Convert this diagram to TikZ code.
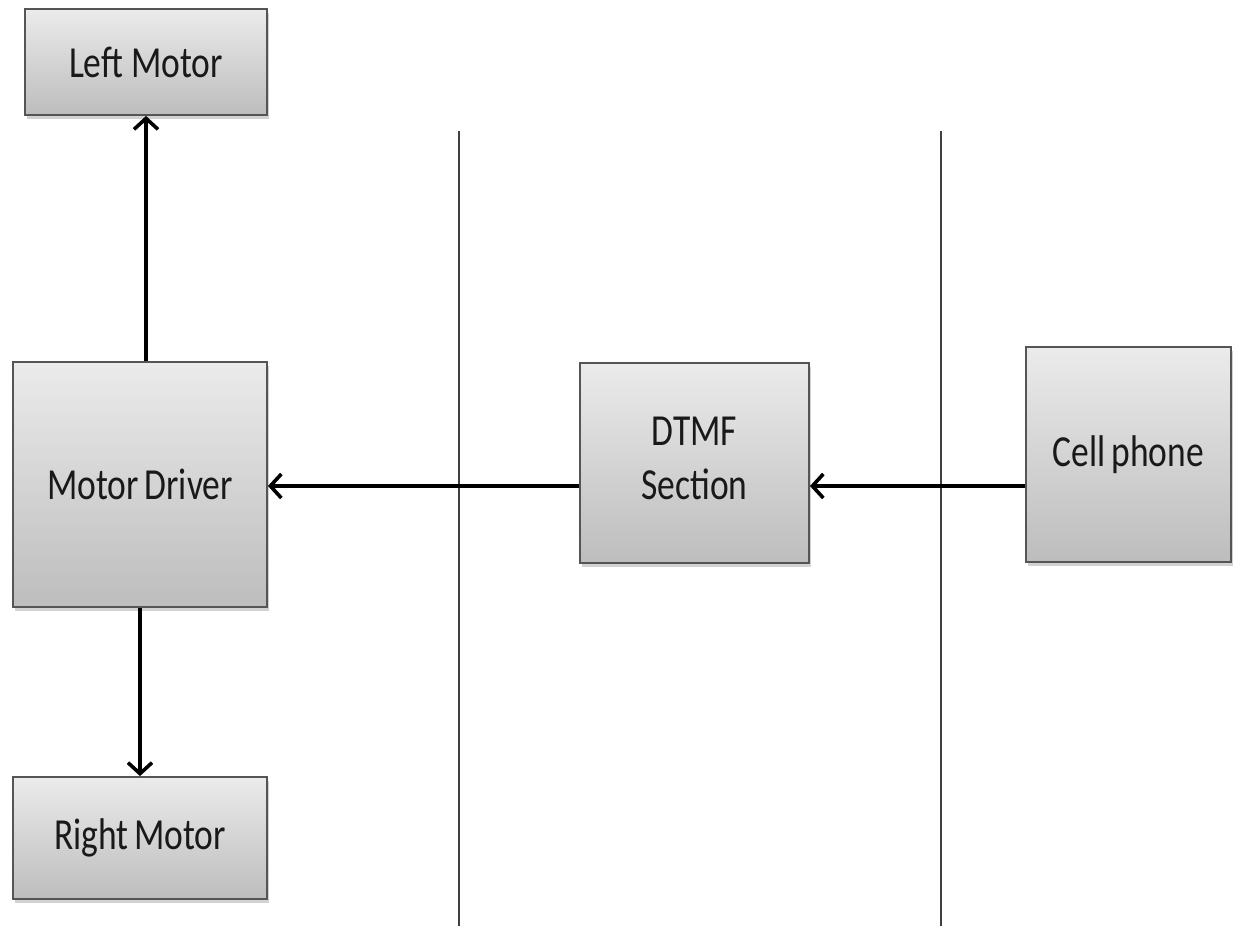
\documentclass[tikz,border=0pt]{standalone}
\usepackage{fontspec}
\setmainfont{Carlito}
\usetikzlibrary{arrows.meta,shadows}
\newcommand{\tallt}[1]{\scalebox{1}[1.25]{#1}}
\definecolor{boxtop}{HTML}{EBEBEB}
\definecolor{boxbot}{HTML}{BDBDBD}
\definecolor{boxline}{HTML}{555555}
\begin{document}
\begin{tikzpicture}[x=1pt,y=-1pt,
  box/.style={rectangle, draw=boxline, line width=1.8pt, top color=boxtop, bottom color=boxbot,
    inner sep=0pt, align=center, font=\fontsize{35.5}{38}\selectfont, text=black!90,
    drop shadow={opacity=0.35, shadow xshift=2pt, shadow yshift=-4pt}},
  conn/.style={line width=3.6pt, -{Straight Barb[length=11pt,width=24pt,line width=3.6pt]}},
  sep/.style={line width=1.1pt, draw=black!75}]
\useasboundingbox[fill=white] (0,0) rectangle (1233,926);
\node[box, minimum width=242pt, minimum height=106pt] (lm) at (146,62) {\tallt{Left Motor}};
\node[box, minimum width=254pt, minimum height=245pt] (md) at (140,484.5) {\tallt{Motor\,Driver}};
\node[box, minimum width=254pt, minimum height=122pt] (rm) at (140,838) {\tallt{Right\,Motor}};
\node[box, minimum width=229pt, minimum height=200pt] (dtmf) at (694.5,463) {\tallt{\begin{tabular}{c}DTMF\\[5pt]Section\end{tabular}}};
\node[box, minimum width=205pt, minimum height=215pt] (cell) at (1128.5,454.5) {\tallt{Cell\,phone}};
\coordinate (s1t) at (459,131); \coordinate (s1b) at (459,926);
\coordinate (s2t) at (941,131); \coordinate (s2b) at (941,926);
\draw[sep] (s1t) -- (s1b);
\draw[sep] (s2t) -- (s2b);
\coordinate (ay) at (0,486);
\draw[conn] (md.north -| lm.south) -- (lm.south);
\draw[conn] (md.south) -- (rm.north);
\draw[conn] (dtmf.west |- ay) -- (md.east |- ay);
\draw[conn] (cell.west |- ay) -- (dtmf.east |- ay);
\end{tikzpicture}
\end{document}
